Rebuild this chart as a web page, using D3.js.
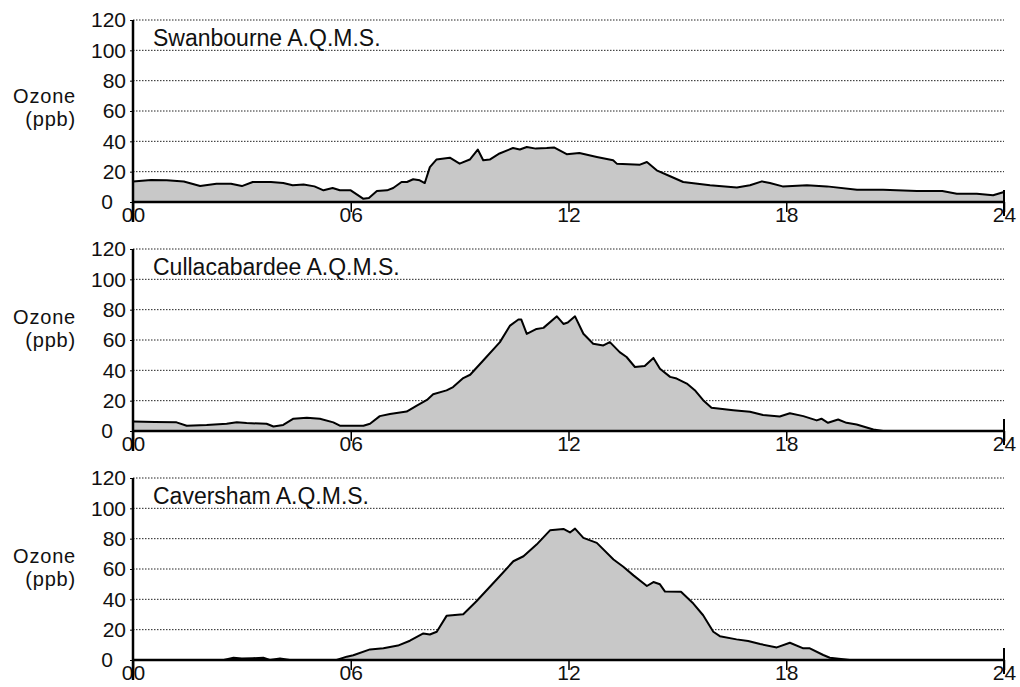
<!DOCTYPE html>
<html>
<head>
<meta charset="utf-8">
<script src="https://cdn.jsdelivr.net/npm/d3@7"></script>
<style>
  body { margin: 0; background: #fff; }
  text { font-family: "Liberation Sans", Arial, Helvetica, sans-serif; fill: #111; }
</style>
</head>
<body>
<div id="root"></div>
<script>
// ###### data ######
const hourTicks = [0, 6, 12, 18, 24];
const hourTickLabels = ['00', '06', '12', '18', '24'];
const ozoneTicks = [0, 20, 40, 60, 80, 100, 120];
const stationNames = ['Swanbourne A.Q.M.S.', 'Cullacabardee A.Q.M.S.', 'Caversham A.Q.M.S.'];

const swanbourneHours = [0, 0.5, 0.93, 1.4, 1.85, 2.3, 2.7, 3.0, 3.3, 3.8, 4.14, 4.4, 4.7, 5.0, 5.25, 5.5, 5.7, 6.0,
  6.34, 6.5, 6.72, 7.0, 7.17, 7.4, 7.55, 7.72, 7.9, 8.04, 8.18, 8.36, 8.73, 9.0, 9.28, 9.5, 9.65, 9.83, 10.1, 10.47,
  10.66, 10.85, 11.1, 11.4, 11.6, 11.95, 12.3, 12.78, 13.23, 13.33, 13.97, 14.16, 14.43, 14.8, 15.16, 15.9, 16.64,
  17.0, 17.33, 17.55, 17.9, 18.57, 19.12, 19.95, 20.67, 21.6, 22.3, 22.7, 23.25, 23.7, 24];
const swanbourneOzone = [13.5, 14.5, 14.3, 13.5, 10.5, 12, 12, 10.5, 13.2, 13.2, 12.5, 11, 11.6, 10.3, 7.7, 9.2, 7.7, 7.7,
  2.2, 2.6, 7.2, 7.7, 9.2, 13.2, 13.2, 15, 14.3, 12.5, 23, 28, 29.2, 25.3, 28, 34.6, 27.5, 28, 32, 35.6,
  34.6, 36.3, 35.2, 35.6, 36, 31.5, 32.3, 29.7, 27.5, 25.3, 24.6, 26.4, 20.9, 17, 13.2, 11, 9.5,
  11, 13.6, 12.5, 10.3, 11, 10.3, 8.1, 8.1, 7.2, 7.2, 5.5, 5.5, 4.4, 6.6];

const cullacabardeeHours = [0, 0.6, 1.2, 1.48, 2.03, 2.58, 2.86, 3.13, 3.68, 3.87, 4.14, 4.42, 4.79, 5.15, 5.52, 5.7,
  6.35, 6.53, 6.8, 7.08, 7.54, 7.82, 8.1, 8.27, 8.64, 8.82, 9.1, 9.29, 9.65, 10.11, 10.39, 10.62, 10.7, 10.85, 11.12,
  11.31, 11.68, 11.86, 11.98, 12.18, 12.41, 12.68, 12.96, 13.14, 13.41, 13.6, 13.83, 14.1, 14.34, 14.52, 14.8, 14.98,
  15.26, 15.48, 15.71, 15.94, 16.54, 17.0, 17.36, 17.82, 18.1, 18.47, 18.84, 18.97, 19.15, 19.43, 19.66, 19.94,
  20.4, 20.67, 24];
const cullacabardeeOzone = [6.3, 6.0, 5.7, 3.5, 4.0, 4.8, 5.7, 5.2, 4.8, 3.0, 4.0, 8.1, 8.7, 8.1, 5.7, 3.5,
  3.5, 4.8, 9.8, 11.2, 12.8, 16.8, 20.5, 24.2, 26.8, 29, 34.9, 37.1, 46.5, 58.6, 69.5, 73.5, 73.5, 64, 67.3,
  68, 75.6, 70.6, 71.5, 75.6, 64.1, 57.5, 56.4, 58.6, 52, 48.8, 42.2, 42.8, 48.2, 41.1, 35.7, 34.6,
  31.3, 26.9, 20.3, 15.3, 13.7, 12.7, 10.5, 9.6, 11.7, 9.8, 7.0, 8.1, 5.4, 7.6, 5.4, 4.3,
  1.0, 0, 0];

const cavershamHours = [0, 2.5, 2.77, 3.0, 3.3, 3.59, 3.77, 4.05, 4.32, 5.61, 5.89, 6.07, 6.53, 6.9, 7.3, 7.63, 8.0,
  8.18, 8.37, 8.64, 9.1, 9.47, 10.02, 10.48, 10.76, 11.12, 11.49, 11.86, 12.04, 12.18, 12.41, 12.78, 13.24, 13.51,
  13.79, 14.16, 14.34, 14.52, 14.66, 15.1, 15.44, 15.71, 15.99, 16.17, 16.63, 16.95, 17.28, 17.74, 18.1, 18.47,
  18.65, 19.02, 19.2, 19.57, 19.75, 24];
const cavershamOzone = [0, 0, 1.5, 1.0, 1.2, 1.5, 0, 1.0, 0, 0, 2.2, 3.1, 7.0, 7.7, 9.5, 12.7, 17.5,
  16.8, 18.6, 29.1, 30.2, 38.9, 53.1, 65.1, 68.4, 76.1, 85.5, 86.4, 84.1, 86.6, 80.5, 77.2, 66.3, 61.5,
  55.8, 48.8, 51.4, 49.9, 45.1, 45, 37.2, 29.5, 18.6, 15.7, 13.6, 12.5, 10.5, 8.3, 11.4, 7.7,
  7.7, 3.3, 1.5, 0.5, 0, 0];

const seriesHours = [swanbourneHours, cullacabardeeHours, cavershamHours];
const seriesOzone = [swanbourneOzone, cullacabardeeOzone, cavershamOzone];

// ###### layout ######
const width = 1020, height = 687;
const left = 133, right = 1004;
const panelTops = [20, 249, 478];
const panelHeight = 182;
const ozoneLabelDy = [83, 75, 85];

const svg = d3.select('#root').append('svg')
  .attr('width', width)
  .attr('height', height)
  .attr('viewBox', [0, 0, width, height]);

const x = d3.scaleLinear().domain([0, 24]).range([left, right]);

stationNames.forEach((name, i) => {
  const top = panelTops[i];
  const y = d3.scaleLinear().domain([0, 120]).range([top + panelHeight, top]);
  const data = seriesHours[i].map((h, j) => ({ h: h, v: seriesOzone[i][j] }));
  const g = svg.append('g');

  // dotted grid lines, the filled area covers them later
  g.selectAll('line.grid')
    .data(ozoneTicks.filter((d) => d > 0))
    .join('line')
    .attr('class', 'grid')
    .attr('x1', left).attr('x2', right)
    .attr('y1', (d) => y(d)).attr('y2', (d) => y(d))
    .attr('stroke', '#222')
    .attr('stroke-width', 1)
    .attr('stroke-dasharray', '1.5,1.5');

  const area = d3.area()
    .x((d) => x(d.h))
    .y0(y(0))
    .y1((d) => y(d.v));
  const line = d3.line()
    .x((d) => x(d.h))
    .y((d) => y(d.v));

  g.append('path')
    .datum(data)
    .attr('d', area)
    .attr('fill', '#c8c8c8');
  g.append('path')
    .datum(data)
    .attr('d', line)
    .attr('fill', 'none')
    .attr('stroke', '#000')
    .attr('stroke-width', 2)
    .attr('stroke-linejoin', 'round');

  // y axis
  const yAxis = g.append('g')
    .attr('transform', `translate(${left},0)`)
    .call(d3.axisLeft(y).tickValues(ozoneTicks).tickSize(3).tickPadding(4));
  yAxis.select('.domain').remove();
  yAxis.selectAll('text')
    .attr('font-size', 21)
    .attr('x', (d) => d === 0 ? -20 : -7);

  // x axis
  const xAxis = g.append('g')
    .attr('transform', `translate(0,${y(0)})`)
    .call(d3.axisBottom(x).tickValues(hourTicks).tickFormat((d, k) => hourTickLabels[k]).tickSize(10));
  xAxis.select('.domain').remove();
  xAxis.selectAll('.tick line').attr('stroke-width', 1.5);
  xAxis.selectAll('text')
    .attr('font-size', 21)
    .attr('y', 5);

  // axis lines drawn by hand: y axis runs down through the 00 label, 24 tick runs above the axis
  g.append('line')
    .attr('x1', left).attr('x2', left)
    .attr('y1', y(120)).attr('y2', y(0) + 20)
    .attr('stroke', '#000').attr('stroke-width', 2.5);
  g.append('line')
    .attr('x1', left).attr('x2', right)
    .attr('y1', y(0)).attr('y2', y(0))
    .attr('stroke', '#000').attr('stroke-width', 2.5);
  g.append('line')
    .attr('x1', x(24)).attr('x2', x(24))
    .attr('y1', y(0) - 12).attr('y2', y(0) + 14)
    .attr('stroke', '#000').attr('stroke-width', 2);

  // station name
  g.append('text')
    .attr('x', 153)
    .attr('y', top + 26)
    .attr('font-size', 23)
    .text(name);

  // ozone label, two separate lines
  g.append('text')
    .attr('text-anchor', 'end')
    .attr('font-size', 20)
    .attr('letter-spacing', 0.8)
    .attr('x', 76)
    .attr('y', top + ozoneLabelDy[i])
    .text('Ozone');
  g.append('text')
    .attr('text-anchor', 'end')
    .attr('font-size', 20)
    .attr('letter-spacing', 0.8)
    .attr('x', 76)
    .attr('y', top + ozoneLabelDy[i] + 22.5)
    .text('(ppb)');
});
</script>
</body>
</html>
